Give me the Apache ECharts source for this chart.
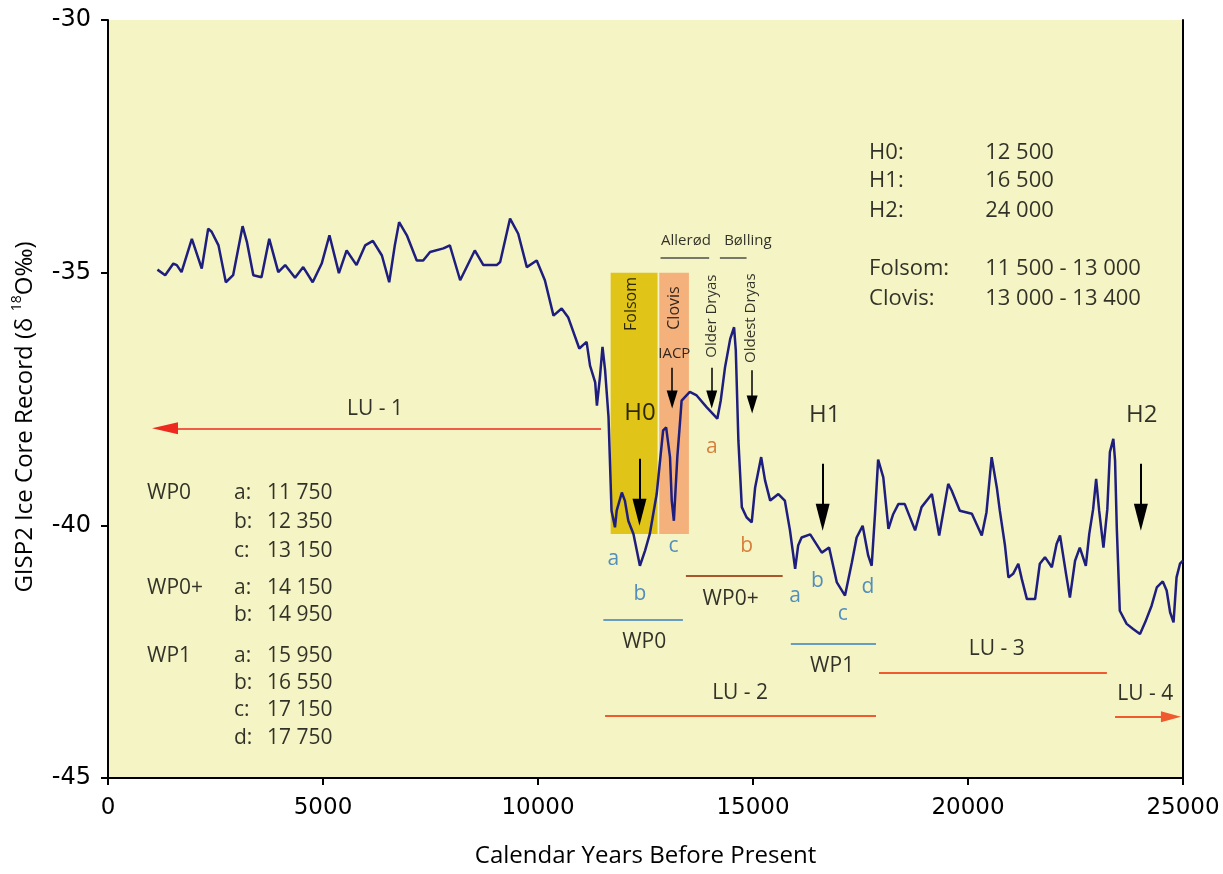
<!DOCTYPE html>
<html>
<head>
<meta charset="utf-8">
<title>GISP2 Ice Core Record</title>
<script src="https://cdn.jsdelivr.net/npm/echarts@6/dist/echarts.min.js"></script>
<style>
  html, body { margin: 0; padding: 0; background: #fff; }
  #chart { width: 1223px; height: 874px; }
</style>
</head>
<body>
<div id="chart"></div>
<script>
// GISP2 d18O record
const years = [1150, 1330, 1520, 1600, 1710, 1950, 2180, 2330, 2410, 2570, 2740, 2910, 3130, 3230, 3380, 3570, 3750, 3960, 4120, 4350,
  4540, 4760, 4970, 5150, 5370, 5550, 5780, 5980, 6160, 6370, 6540, 6670, 6770, 6950, 7180, 7330, 7490, 7800, 7950, 8030,
  8190, 8530, 8730, 9040, 9120, 9350, 9540, 9740, 9970, 10160, 10360, 10550, 10700, 10960, 11130, 11210, 11330, 11370, 11440, 11500,
  11560, 11640, 11710, 11790, 11830, 11950, 12020, 12100, 12220, 12370, 12490, 12600, 12760, 12910, 12980, 13070, 13110, 13160, 13240, 13300,
  13340, 13530, 13690, 13920, 14170, 14250, 14350, 14470, 14560, 14600, 14660, 14740, 14850, 14970, 15050, 15190, 15280, 15400, 15590, 15740,
  15860, 15980, 16050, 16130, 16330, 16600, 16770, 16950, 17140, 17300, 17410, 17550, 17680, 17760, 17840, 17910, 18030, 18150, 18260, 18380,
  18530, 18770, 18920, 19160, 19330, 19540, 19620, 19810, 20090, 20320, 20430, 20550, 20670, 20740, 20860, 20940, 21050, 21170, 21250, 21370,
  21560, 21670, 21790, 21950, 22060, 22140, 22280, 22370, 22490, 22600, 22740, 22820, 22910, 22980, 23050, 23150, 23240, 23300, 23380, 23420,
  23460, 23530, 23690, 23840, 24000, 24120, 24270, 24390, 24530, 24620, 24700, 24780, 24850, 24930, 25000];
const d18O = [-34.94, -35.05, -34.82, -34.85, -34.99, -34.33, -34.92, -34.13, -34.19, -34.46, -35.19, -35.05, -34.08, -34.39, -35.05, -35.09, -34.33, -34.99, -34.85, -35.10,
  -34.89, -35.19, -34.82, -34.26, -35.01, -34.56, -34.85, -34.46, -34.37, -34.66, -35.19, -34.46, -34.00, -34.26, -34.76, -34.76, -34.59, -34.52, -34.46, -34.69,
  -35.15, -34.56, -34.85, -34.85, -34.79, -33.93, -34.23, -34.89, -34.76, -35.15, -35.85, -35.71, -35.88, -36.50, -36.37, -36.84, -37.17, -37.63, -37.07, -36.47,
  -36.93, -37.86, -39.71, -40.04, -39.71, -39.35, -39.51, -39.91, -40.17, -40.80, -40.50, -40.17, -39.38, -38.12, -38.06, -38.65, -39.51, -39.91, -38.65, -37.99,
  -37.53, -37.36, -37.43, -37.66, -37.89, -37.53, -36.87, -36.31, -36.08, -36.54, -38.32, -39.64, -39.84, -39.94, -39.25, -38.65, -39.11, -39.51, -39.38, -39.51,
  -40.10, -40.86, -40.40, -40.24, -40.18, -40.54, -40.44, -41.13, -41.39, -40.73, -40.24, -40.01, -40.60, -40.80, -39.74, -38.70, -39.05, -40.07, -39.78, -39.58,
  -39.58, -40.10, -39.64, -39.38, -40.20, -39.18, -39.31, -39.71, -39.77, -40.20, -39.74, -38.65, -39.25, -39.71, -40.40, -41.03, -40.96, -40.76, -41.06, -41.46,
  -41.46, -40.76, -40.63, -40.83, -40.37, -40.20, -40.96, -41.43, -40.70, -40.44, -40.80, -40.17, -39.68, -39.08, -39.71, -40.44, -39.68, -38.55, -38.29, -38.72,
  -40.04, -41.69, -41.95, -42.05, -42.15, -41.92, -41.59, -41.23, -41.11, -41.29, -41.72, -41.92, -41.03, -40.76, -40.70];

// culture periods: name, from, to, top, bottom
const periods = [['Folsom', 11690, 12780, -35, -40.17], ['Clovis', 12820, 13510, -35, -40.17]];

// annotations in data units: [x, y, text]
const heinrichLabels = [[12370, -37.79, 'H0'], [16670, -37.81, 'H1'], [24040, -37.81, 'H2']];
const heinrichArrows = [[12360, -38.68, -39.74], [16620, -38.78, -39.84], [24020, -38.78, -39.84]]; // x, from, head
const eventLabels = [[13440, -34.36, 'Allerød'], [14880, -34.36, 'Bølling'], [13170, -36.60, 'IACP']];
const eventBars = [[12850, 13980, -34.70], [14230, 14850, -34.70]];
const periodLabels = [[12180, -35.62, 'Folsom'], [13170, -35.70, 'Clovis']];
const dryasLabels = [[14030, -35.86, 'Older Dryas'], [14950, -35.90, 'Oldest Dryas']];
const eventArrows = [[13120, -36.88, -37.51], [14040, -36.88, -37.51], [14980, -36.93, -37.61]];
const blueLetters = [[11750, -40.67, 'a'], [12370, -41.35, 'b'], [13150, -40.40, 'c'],
  [15980, -41.39, 'a'], [16500, -41.10, 'b'], [17090, -41.76, 'c'], [17670, -41.23, 'd']];
const orangeLetters = [[14040, -38.45, 'a'], [14850, -40.40, 'b']];
const wpBars = [[11520, 13370, -41.87], [13440, 15690, -41.00], [15880, 17860, -42.34]]; // WP0, WP0+, WP1
const wpNames = [[12470, -42.30, 'WP0'], [14480, -41.46, 'WP0+'], [16840, -42.78, 'WP1']];
const luBars = [[11560, 17860, -43.77], [17930, 23230, -42.92]]; // LU-2, LU-3
const luArrows = [[11465, 1326, -38.08], [23420, 24720, -43.79]]; // LU-1, LU-4
const luNames = [[6210, -37.69, 'LU - 1'], [14700, -43.32, 'LU - 2'], [20670, -42.44, 'LU - 3'], [24120, -43.33, 'LU - 4']];

const wpTable = [['WP0', 'a:', '11 750'], ['', 'b:', '12 350'], ['', 'c:', '13 150'],
  ['WP0+', 'a:', '14 150'], ['', 'b:', '14 950'],
  ['WP1', 'a:', '15 950'], ['', 'b:', '16 550'], ['', 'c:', '17 150'], ['', 'd:', '17 750']];
const wpTableY = [-39.37, -39.93, -40.50, -41.25, -41.77, -42.58, -43.12, -43.65, -44.21];
const wpTableX = [907, 2930, 3700];
const dateTable = [['H0:', '12 500'], ['H1:', '16 500'], ['H2:', '24 000'],
  ['Folsom:', '11 500 - 13 000'], ['Clovis:', '13 000 - 13 400']];
const dateTableY = [-32.62, -33.19, -33.78, -34.93, -35.51];
const dateTableX = [17700, 20400];

const FONT = '"Open Sans", "Noto Sans", sans-serif';
const TICK_FONT = '"DejaVu Sans", sans-serif';
const periodColors = ['#e0c417', '#f5b17c'];

function textLayer(items, size, color, extra) {
  return {
    type: 'scatter',
    symbolSize: 0,
    silent: true,
    z: 10,
    data: items.map(function (t) { return { value: [t[0], t[1]], name: t[2] }; }),
    label: Object.assign({
      show: true,
      position: 'inside',
      formatter: '{b}',
      color: color,
      fontSize: size,
      fontFamily: FONT,
      textBorderWidth: 0
    }, extra || {})
  };
}

// empty line series that only carries a markLine
function lineLayer(pairs, style, symbol, headSize) {
  return {
    type: 'line',
    data: [],
    silent: true,
    z: 6,
    markLine: {
      silent: true,
      animation: false,
      symbol: symbol || ['none', 'none'],
      symbolSize: headSize || 0,
      label: { show: false },
      lineStyle: style,
      data: pairs.map(function (p) {
        return [{ coord: p[0] }, { coord: p[1], symbolSize: headSize || 0 }];
      })
    }
  };
}

function tableRows(rows, ys, xs) {
  const out = [];
  rows.forEach(function (r, i) {
    r.forEach(function (cell, j) {
      if (cell) out.push([xs[j], ys[i], cell]);
    });
  });
  return out;
}

const chart = echarts.init(document.getElementById('chart'));

chart.setOption({
  animation: false,
  backgroundColor: '#ffffff',
  grid: {
    left: 108,
    right: 40,
    top: 20,
    bottom: 96,
    show: true,
    backgroundColor: '#f5f4c4',
    borderWidth: 0
  },
  xAxis: {
    type: 'value',
    min: 0,
    max: 25000,
    interval: 5000,
    name: 'Calendar Years Before Present',
    nameLocation: 'middle',
    nameGap: 66,
    nameTextStyle: { fontSize: 24, fontFamily: FONT, color: '#000' },
    axisLine: { lineStyle: { color: '#000', width: 2 } },
    axisTick: { length: 7, lineStyle: { color: '#000', width: 2 } },
    axisLabel: {
      margin: 19, fontSize: 23, fontFamily: TICK_FONT, color: '#000',
      formatter: function (v) { return String(v); }
    },
    splitLine: { show: false }
  },
  yAxis: [{
    type: 'value',
    min: -45,
    max: -30,
    interval: 5,
    name: 'GISP2 Ice Core Record (δ {sup|18}O‰)',
    nameLocation: 'middle',
    nameGap: 68,
    nameTextStyle: {
      fontSize: 24, fontFamily: FONT, color: '#000', lineHeight: 30,
      padding: [0, 36, 0, 0],
      rich: { sup: { fontSize: 14, fontFamily: FONT, color: '#000', lineHeight: 14, verticalAlign: 'top' } }
    },
    axisLine: { show: true, lineStyle: { color: '#000', width: 2 } },
    axisTick: { show: true, length: 7, lineStyle: { color: '#000', width: 2 } },
    axisLabel: { margin: 17, fontSize: 24, fontFamily: TICK_FONT, color: '#000' },
    splitLine: { show: false }
  }, {
    type: 'value',
    min: -45,
    max: -30,
    position: 'right',
    axisLine: { show: true, lineStyle: { color: '#000', width: 2 } },
    axisTick: { show: false },
    axisLabel: { show: false },
    splitLine: { show: false }
  }],
  series: [
    {
      // shaded culture periods
      type: 'custom',
      silent: true,
      z: 1,
      data: periods.map(function (p) { return [p[1], p[2], p[3], p[4]]; }),
      renderItem: function (params, api) {
        const a = api.coord([api.value(0), api.value(2)]);
        const b = api.coord([api.value(1), api.value(3)]);
        return {
          type: 'rect',
          shape: { x: a[0], y: a[1], width: b[0] - a[0], height: b[1] - a[1] },
          style: { fill: periodColors[params.dataIndex] }
        };
      }
    },
    {
      name: 'GISP2',
      type: 'line',
      z: 3,
      showSymbol: false,
      silent: true,
      data: years.map(function (x, i) { return [x, d18O[i]]; }),
      lineStyle: { color: '#1e1e7e', width: 2.5 }
    },
    lineLayer(eventBars.map(function (b) { return [[b[0], b[2]], [b[1], b[2]]]; }), { color: '#77776a', width: 2, type: 'solid' }),
    lineLayer([wpBars[0], wpBars[2]].map(function (b) { return [[b[0], b[2]], [b[1], b[2]]]; }), { color: '#3a7fc1', width: 1.5, type: 'solid' }),
    lineLayer([wpBars[1]].map(function (b) { return [[b[0], b[2]], [b[1], b[2]]]; }), { color: '#a9562b', width: 2, type: 'solid' }),
    lineLayer(luBars.map(function (b) { return [[b[0], b[2]], [b[1], b[2]]]; }), { color: '#ef5a2e', width: 2, type: 'solid' }),
    lineLayer([[[luArrows[0][0], luArrows[0][2]], [luArrows[0][1], luArrows[0][2]]]], { color: '#ee2a1e', width: 1.5, type: 'solid' }, ['none', 'triangle'], [12, 26]),
    lineLayer([[[luArrows[1][0], luArrows[1][2]], [luArrows[1][1], luArrows[1][2]]]], { color: '#ef5a2e', width: 2, type: 'solid' }, ['none', 'triangle'], [11, 20]),
    lineLayer(heinrichArrows.map(function (a) { return [[a[0], a[1]], [a[0], a[2]]]; }), { color: '#000', width: 2, type: 'solid' }, ['none', 'triangle'], [14, 27]),
    lineLayer(eventArrows.map(function (a) { return [[a[0], a[1]], [a[0], a[2]]]; }), { color: '#000', width: 1.5, type: 'solid' }, ['none', 'triangle'], [11, 18]),
    textLayer(heinrichLabels, 24, '#000'),
    textLayer(eventLabels, 15, '#000'),
    textLayer(periodLabels, 16, '#000', { rotate: 90 }),
    textLayer(dryasLabels, 15, '#000', { rotate: 90 }),
    textLayer(blueLetters, 21, '#2a74b9'),
    textLayer(orangeLetters, 21, '#cf621b'),
    textLayer(wpNames, 21, '#000'),
    textLayer(luNames, 21, '#000'),
    textLayer(tableRows(wpTable, wpTableY, wpTableX), 21, '#000', { position: 'right', distance: 0 }),
    textLayer(tableRows(dateTable, dateTableY, dateTableX), 22, '#000', { position: 'right', distance: 0 })
  ]
});
</script>
</body>
</html>
